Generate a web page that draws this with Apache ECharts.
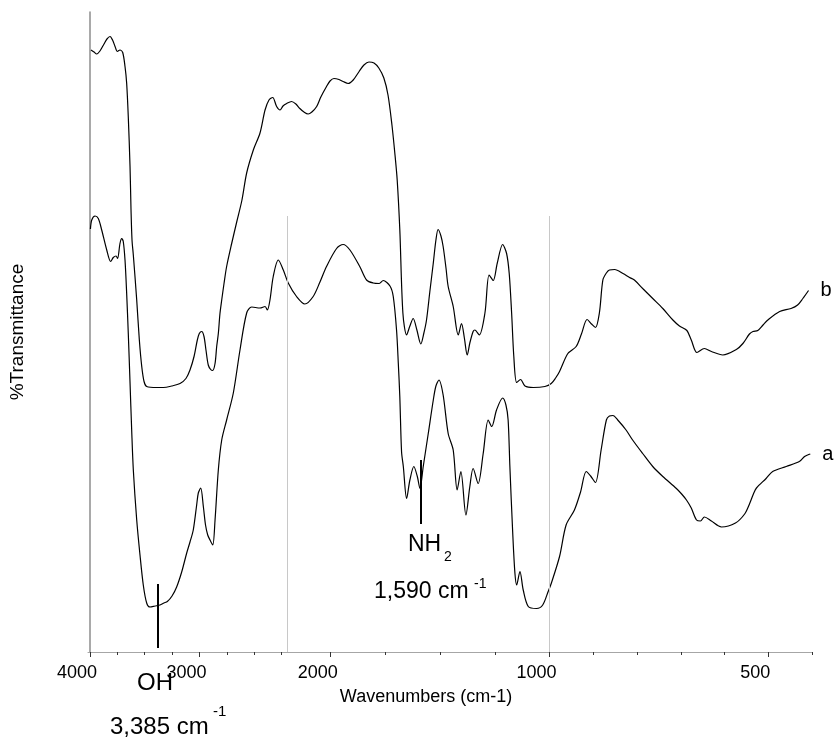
<!DOCTYPE html>
<html><head><meta charset="utf-8">
<script src="https://cdn.jsdelivr.net/npm/echarts@6/dist/echarts.min.js"></script>
<style>html,body{margin:0;padding:0;background:#fff}#c{width:838px;height:740px}</style>
</head><body><div id="c"></div>
<script>
// Curve b (upper spectrum): wavenumber (cm-1) and %T (arbitrary offset units)
const waveB = [3991,3963,3939,3909,3872,3845,3817,3794,3771,3750,3726,3701,3680,3665,3650,3634,3625,3616,3604,3573,
3549,3527,3506,3482,3390,3330,3253,3177,3123,3086,3049,3019,3001,2979,2958,2940,2919,2897,2879,2857,
2842,2827,2812,2796,2775,2751,2705,2659,2611,2568,2507,2446,2400,2364,2330,2294,2263,2236,2202,
2179,2159,2141,2122,2103,2086,2064,2045,2019,2003,1985,1962,1943,1920,1897,1870,1848,1825,1802,1780,
1757,1738,1720,1706,1696,1684,1670,1653,1638,1623,1606,1588,1574,1562,1547,1531,1519,1509,1496,1486,
1473,1463,1440,1417,1402,1389,1376,1364,1349,1341,1321,1295,1276,1257,1239,1214,1196,1184,1173,1163,
1150,1132,1112,1074,1021,
996,986,977,958,939,927,914,904,895,886,878,870,863,851,832,817,806,787,764,741,
718,703,686,676,663,646,630,604,573,558,543,535,524,512,501,474,448,433,421,408];
const transB = [120.4,120,119.6,120.2,121.6,122.6,123.1,122.4,121.1,120.1,120.4,119.9,117.1,113.8,107,97,88.4,82.4,79.4,70.4,
62.4,57.1,54.1,53.1,52.9,52.9,53.2,53.7,54.7,56.4,59.1,62.4,63.7,64.1,63.1,60.4,57.4,56.5,56.3,57.7,
61.1,63.7,67.7,70.4,73.7,77.1,81.7,86,90.4,95.8,100.4,103.8,108.4,110.4,110.9,109.1,108.4,109.2,109.7,
110.1,109.6,108.7,108,107.6,108,109.1,111,113.1,114.2,114.7,114.5,114.1,113.7,114.4,116.1,117.4,118,117.8,116.8,
114.8,111.4,105.4,99.4,94.4,84.4,67.8,63.4,65.2,66.7,64.4,61.6,63.8,66.4,72,77.8,82.4,84.5,83.2,81.1,
76.8,73.1,69.1,63.4,65.7,62.8,59.4,61.8,64.1,64.4,63.4,67.8,75.4,74.3,77.7,81.5,79.7,75.7,67.8,59.1,
53.9,54.5,53.2,52.9,53.1,
53.7,54.8,56.1,59.7,61.1,63.6,66.5,65.6,64.9,67.8,74.4,75.8,76.4,76.5,75.7,74.9,74.4,72.7,70.7,68.7,
66.4,65.2,64.3,62.4,59.9,60.7,60.1,59.4,60.5,61.7,63.6,64.1,64.3,65.4,66.4,68.1,68.7,69.4,70.7,72.3];

// Curve a (lower spectrum)
const waveA = [3996,3984,3954,3924,3893,3847,3811,3787,3762,3748,3726,3710,3696,3680,3665,3650,3634,3619,3604,3573,
3543,3513,3482,3452,3406,3360,3324,3293,3250,3208,3162,3116,3086,3056,3025,3010,2988,2964,2944,2924,
2903,2878,2857,2827,2796,2751,2690,2629,2568,2522,2446,2400,2379,2355,2325,2279,2233,
2194,2156,2118,2080,2049,2019,1973,1943,1912,1866,1836,1806,1778,1760,1729,1714,1699,1691,1684,1676,
1668,1653,1638,1620,1604,1592,1577,1554,1531,1519,1505,1486,1463,1440,1422,1405,1382,1364,1349,1326,
1303,1280,1264,1242,1214,1199,1189,1181,1168,1158,1150,1135,1120,1097,1059,1031,1006,
996,977,962,943,929,916,906,895,882,870,863,855,844,825,810,787,764,741,710,698,
687,676,664,655,646,630,607,575,554,543,534,527,505,490,459,429,417,410,404];
const transA = [84.6,86.4,87.2,86.7,84.4,80.4,78.1,78.9,79.2,78.7,81.7,82.7,82.1,78.4,71.8,63.7,53.8,44.4,36.4,26.4,
19.4,13.4,9.8,9,9.2,9.4,9.8,10.1,11.2,13,16,19.8,22,24.4,29.4,31.8,32.8,29.1,25.4,23.4,
22.4,21.4,26.4,36.4,42.4,46.4,51.8,60.4,67.8,69,68.8,69.1,68.4,70.4,75.1,78.4,76.4,
73.8,71.1,69.6,71.1,74,77.1,80.7,81.5,80.4,77,74.4,73.8,73.7,74.3,73.2,71.1,64.4,57.8,51,40,
37.1,30.7,34.4,37.1,35.1,32.7,37.1,43.7,50.4,53.2,54.4,51.4,43.7,40.4,32.4,36.1,27.4,33.1,36.7,33.7,
39.7,46.4,45.1,48.4,50.8,49.4,46.4,37.1,23.8,15.8,13.4,16.1,12.4,9.1,8.7,9.4,12.1,
13.7,19.1,25.4,28.4,32,36.1,35.2,33.9,40.4,46.4,47.2,47.3,46.4,44.4,42.4,39.7,37.1,35.1,32.7,31.6,
30.4,28.8,26.4,26.2,27,26.2,25,25.8,27.6,29.6,31.6,32.8,34.7,36.1,37.1,38.1,39.1,39.4,39.6];

// Axis ticks (cm-1)
const majorTicks = [4000, 3000, 2000, 1000, 500];
const minorTicks = [3750, 3500, 3250, 2750, 2500, 2250, 1750, 1500, 1250, 900, 800, 700, 600, 400];
const scaleChanges = [2200, 1000];   // the x scale doubles at each of these wavenumbers
const scaleChangeTop = 87.2;
// Band markers: [wavenumber, lower %T, upper %T]
const ohMarker = [3385, 0.8, 13.6];
const nhMarker = [1590, 25.6, 38.4];

const FONT = '"Liberation Sans", Arial, sans-serif';
const S1 = 0.1094, S2 = 2 * S1, S3 = 4 * S1;
function toAxis(w) {
  if (w >= 2200) return (4000 - w) * S1;
  if (w >= 1000) return 1800 * S1 + (2200 - w) * S2;
  return 1800 * S1 + 1200 * S2 + (1000 - w) * S3;
}
function fromAxis(u) {
  const u1 = 1800 * S1, u2 = u1 + 1200 * S2;
  if (u <= u1) return 4000 - u / S1;
  if (u <= u2) return 2200 - (u - u1) / S2;
  return 1000 - (u - u2) / S3;
}
const pairs = (ws, ts) => ws.map((w, i) => [toAxis(w), ts[i]]);

const markerLines = [ohMarker, nhMarker].map(m => [
  { coord: [toAxis(m[0]), m[1]], lineStyle: { color: '#000', width: 2, type: 'solid' } },
  { coord: [toAxis(m[0]), m[2]] }
]);
const breakLines = scaleChanges.map(w => [
  { coord: [toAxis(w), 0], lineStyle: { color: '#c8c8c8', width: 1, type: 'solid' } },
  { coord: [toAxis(w), scaleChangeTop] }
]);

const chart = echarts.init(document.getElementById('c'), null, { renderer: 'canvas' });
const xMax = toAxis(400);
chart.setOption({
  animation: false,
  backgroundColor: '#fff',
  grid: { left: 88, right: 838 - 88 - (xMax + 2), top: 12, bottom: 88 },
  xAxis: [{
    type: 'value', min: -2, max: xMax, position: 'bottom',
    axisLine: { show: true, lineStyle: { color: '#a6a6a6', width: 1 } },
    axisTick: { show: true, customValues: majorTicks.map(toAxis), length: 5, lineStyle: { color: '#333', width: 1 } },
    axisLabel: { show: true, customValues: majorTicks.map(toAxis), formatter: v => String(Math.round(fromAxis(v))),
      fontSize: 18, fontFamily: FONT, color: '#000', margin: 12, padding: [0, 26, 0, 0] },
    splitLine: { show: false },
    name: 'Wavenumbers (cm-1)', nameLocation: 'middle', nameGap: 36,
    nameTextStyle: { fontSize: 18, fontFamily: FONT, color: '#000', padding: [0, 48, 0, 0] }
  }, {
    type: 'value', min: -2, max: xMax, position: 'bottom',
    axisLine: { show: false },
    axisTick: { show: true, customValues: minorTicks.map(toAxis), length: 3, lineStyle: { color: '#333', width: 1 } },
    axisLabel: { show: false }, splitLine: { show: false }
  }],
  yAxis: {
    type: 'value', min: 0, max: 128,
    axisLine: { show: true, lineStyle: { color: '#8c8c8c', width: 1.5 } },
    axisTick: { show: false }, axisLabel: { show: false }, splitLine: { show: false },
    name: '%Transmittance', nameLocation: 'middle', nameGap: 61,
    nameTextStyle: { fontSize: 19, fontFamily: FONT, color: '#000' }
  },
  series: [{
    name: 'b', type: 'line', xAxisIndex: 0, data: pairs(waveB, transB), showSymbol: false, smooth: 0.3,
    lineStyle: { color: '#000', width: 1.2 },
    endLabel: { show: true, formatter: 'b', fontSize: 20, fontFamily: FONT, color: '#000', distance: 12 }
  }, {
    name: 'a', type: 'line', xAxisIndex: 0, data: pairs(waveA, transA), showSymbol: false, smooth: 0.3,
    lineStyle: { color: '#000', width: 1.2 },
    endLabel: { show: true, formatter: 'a', fontSize: 20, fontFamily: FONT, color: '#000', distance: 12 },
    markLine: { silent: true, symbol: 'none', label: { show: false }, animation: false,
      data: breakLines.concat(markerLines) }
  }],
  graphic: [
    { type: 'text', x: 155, y: 683, style: { text: 'OH', fontSize: 24, fontFamily: FONT, fill: '#000', align: 'center', verticalAlign: 'middle' } },
    { type: 'text', x: 110, y: 727, style: { text: '3,385 cm', fontSize: 24, fontFamily: FONT, fill: '#000', align: 'left', verticalAlign: 'middle' } },
    { type: 'text', x: 213, y: 712, style: { text: '-1', fontSize: 15, fontFamily: FONT, fill: '#000', align: 'left', verticalAlign: 'middle' } },
    { type: 'text', x: 408, y: 545, style: { text: 'NH', fontSize: 23, fontFamily: FONT, fill: '#000', align: 'left', verticalAlign: 'middle' } },
    { type: 'text', x: 444, y: 557, style: { text: '2', fontSize: 14, fontFamily: FONT, fill: '#000', align: 'left', verticalAlign: 'middle' } },
    { type: 'text', x: 374, y: 592, style: { text: '1,590 cm', fontSize: 23, fontFamily: FONT, fill: '#000', align: 'left', verticalAlign: 'middle' } },
    { type: 'text', x: 474, y: 584, style: { text: '-1', fontSize: 14, fontFamily: FONT, fill: '#000', align: 'left', verticalAlign: 'middle' } }
  ]
});
</script></body></html>
